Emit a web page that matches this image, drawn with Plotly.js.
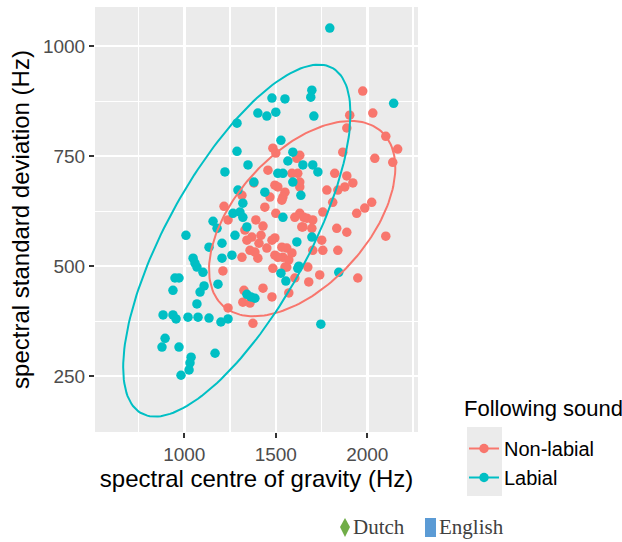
<!DOCTYPE html>
<html>
<head>
<meta charset="utf-8">
<script src="https://cdn.plot.ly/plotly-3.0.1.min.js"></script>
<style>html,body{margin:0;padding:0;background:#fff;}#chart{width:622px;height:542px;}</style>
</head>
<body>
<div id="chart"></div>
<script>
// ---- data ----
const groupNames = ["Non-labial", "Labial"];
const legendTitle = "Following sound";
const xTickVals = [1000, 1500, 2000];
const xTickText = ["1000", "1500", "2000"];
const yTickVals = [250, 500, 750, 1000];
const yTickText = ["250", "500", "750", "1000"];

const nonLabialX = [1975,2030,1904,1888,2101,2166,2139,2041,1866,1484,1500,1631,1615,1457,1822,1888,1921,1877,1839,1779,1811,2024,1986,1942,1757,1604,1670,1702,1642,1697,1833,1888,2101,1751,1702,1757,1839,1560,1539,1620,1631,1550,1539,1468,1495,1315,1217,1239,1391,1430,1331,1369,1342,1408,1451,1359,1315,1402,1495,1495,1500,1440,1380,1211,1326,1430,1479,1320,1359,1239,1375,1484,1560,1675,1604,1740,1680,1571,1948,1511,1533,1588,1631,1419,1479,1386,1511,1571,1550,1588,1533,1631,1653,1648];
const nonLabialY = [898,848,843,814,795,766,736,745,759,768,757,752,745,718,711,705,689,680,673,673,645,645,632,620,623,611,609,605,589,586,586,577,568,559,536,536,536,541,520,711,680,668,657,657,684,661,636,605,605,591,582,566,559,552,541,536,520,518,525,564,620,634,689,489,445,450,430,418,416,405,370,495,498,498,473,480,464,439,473,680,650,711,691,570,559,532,520,514,498,530,543,620,611,589];

const labialX = [1795,2144,1697,1691,1550,1479,1402,1451,1500,1288,1708,1528,1288,1593,1566,1648,1702,1730,1348,1222,1511,1539,1380,1593,1293,1440,1637,1320,1304,1266,1320,1539,1157,1179,1342,1009,1277,1697,1615,1206,1135,1048,1206,1260,1626,1069,1102,1528,1844,1620,949,971,1555,938,1108,1184,1086,1342,1386,1069,884,938,955,1020,1075,1135,1200,1239,895,878,971,1168,1037,1031,1026,982,1746,1058,1364];
const labialY = [1041,870,900,884,880,882,848,841,850,825,841,786,761,759,739,730,730,714,730,714,711,711,691,691,673,668,661,643,623,620,611,611,602,586,589,570,570,566,555,552,543,518,518,525,500,498,486,484,486,495,473,473,466,445,455,459,441,436,427,414,389,389,380,384,384,382,373,380,336,316,316,302,293,280,264,252,368,507,430];

// 95% ellipse parameters (centre, half-extents, correlation)
const nonLabialEllipse = {cx: 1644, cy: 608, sx: 509, sy: 222, rho: 0.52};
const labialEllipse = {cx: 1287, cy: 558, sx: 621, sy: 400, rho: 0.72};

const colors = ["#F8766D", "#00BFC4"];

function ellipsePath(e) {
  const xs = [], ys = [];
  const n = 180, k = Math.sqrt(1 - e.rho * e.rho);
  for (let i = 0; i <= n; i++) {
    const t = 2 * Math.PI * i / n;
    xs.push(e.cx + e.sx * Math.cos(t));
    ys.push(e.cy + e.sy * (e.rho * Math.cos(t) + k * Math.sin(t)));
  }
  return {xs, ys};
}

const eN = ellipsePath(nonLabialEllipse);
const eL = ellipsePath(labialEllipse);

const MS = 9.5;
const traces = [
  {x: nonLabialX, y: nonLabialY, type: "scatter", mode: "markers", showlegend: false, hoverinfo: "x+y",
   marker: {color: colors[0], size: MS}},
  {x: labialX, y: labialY, type: "scatter", mode: "markers", showlegend: false, hoverinfo: "x+y",
   marker: {color: colors[1], size: MS}},
  {x: eN.xs, y: eN.ys, type: "scatter", mode: "lines", showlegend: false, hoverinfo: "skip",
   line: {color: colors[0], width: 2}},
  {x: eL.xs, y: eL.ys, type: "scatter", mode: "lines", showlegend: false, hoverinfo: "skip",
   line: {color: colors[1], width: 2}},
  {x: [null], y: [null], type: "scatter", mode: "lines+markers", name: groupNames[0],
   line: {color: colors[0], width: 2}, marker: {color: colors[0], size: MS}},
  {x: [null], y: [null], type: "scatter", mode: "lines+markers", name: groupNames[1],
   line: {color: colors[1], width: 2}, marker: {color: colors[1], size: MS}}
];

const axisCommon = {
  showgrid: true, gridcolor: "#FFFFFF", gridwidth: 2.5, zeroline: false, showline: false,
  ticks: "outside", ticklen: 5, tickwidth: 2, tickcolor: "#333333",
  tickfont: {family: "Liberation Sans, Arial, sans-serif", size: 19, color: "#4D4D4D"},
  tickmode: "array"
};

// pixel helpers for paper-positioned decorations (plot area 95..418 x, 7..432 y)
const px = v => (v - 95) / 323;
const py = v => (432 - v) / 425;

const layout = {
  width: 622, height: 542,
  margin: {l: 95, r: 204, t: 7, b: 110},
  paper_bgcolor: "#FFFFFF", plot_bgcolor: "#EBEBEB",
  font: {family: "Liberation Sans, Arial, sans-serif", color: "#000000"},
  xaxis: Object.assign({}, axisCommon, {
    range: [512, 2277], tickvals: xTickVals, ticktext: xTickText,
    minor: {tick0: 750, dtick: 500, showgrid: true, gridcolor: "#FFFFFF", gridwidth: 1.2, ticks: ""},
    title: {text: "spectral centre of gravity (Hz)", font: {size: 24, color: "#000000"}, standoff: 4}
  }),
  yaxis: Object.assign({}, axisCommon, {
    range: [123, 1089], tickvals: yTickVals, ticktext: yTickText,
    minor: {tick0: 125, dtick: 250, showgrid: true, gridcolor: "#FFFFFF", gridwidth: 1.2, ticks: ""},
    title: {text: "spectral standard deviation (Hz)", font: {size: 24, color: "#000000"}, standoff: 6}
  }),
  showlegend: true,
  legend: {
    x: px(464), xanchor: "left", y: py(429), yanchor: "top",
    bgcolor: "rgba(0,0,0,0)",
    font: {size: 20, color: "#000000"},
    itemwidth: 30, tracegroupgap: 0
  },
  shapes: [
    {type: "rect", xref: "paper", yref: "paper", x0: px(467), x1: px(502), y0: py(496), y1: py(427),
     fillcolor: "#EBEBEB", line: {width: 0}, layer: "below"},
    {type: "path", xref: "paper", yref: "paper",
     path: `M ${px(345)} ${py(518)} L ${px(350)} ${py(527)} L ${px(345)} ${py(537)} L ${px(340)} ${py(527)} Z`,
     fillcolor: "#70AD47", line: {width: 0}},
    {type: "rect", xref: "paper", yref: "paper", x0: px(425), x1: px(436), y0: py(537), y1: py(518),
     fillcolor: "#5B9BD5", line: {width: 0}}
  ],
  annotations: [
    {xref: "paper", yref: "paper", x: px(462), y: py(408), xanchor: "left", yanchor: "middle", showarrow: false,
     text: legendTitle, font: {size: 22, color: "#000000"}},
    {xref: "paper", yref: "paper", x: px(351), y: py(527), xanchor: "left", yanchor: "middle", showarrow: false,
     text: "Dutch",
     font: {family: "Liberation Serif, Times New Roman, serif", size: 21, color: "#404040"}},
    {xref: "paper", yref: "paper", x: px(437), y: py(527), xanchor: "left", yanchor: "middle", showarrow: false,
     text: "English",
     font: {family: "Liberation Serif, Times New Roman, serif", size: 21, color: "#404040"}}
  ]
};

Plotly.newPlot("chart", traces, layout, {displayModeBar: false, staticPlot: true});
</script>
</body>
</html>
